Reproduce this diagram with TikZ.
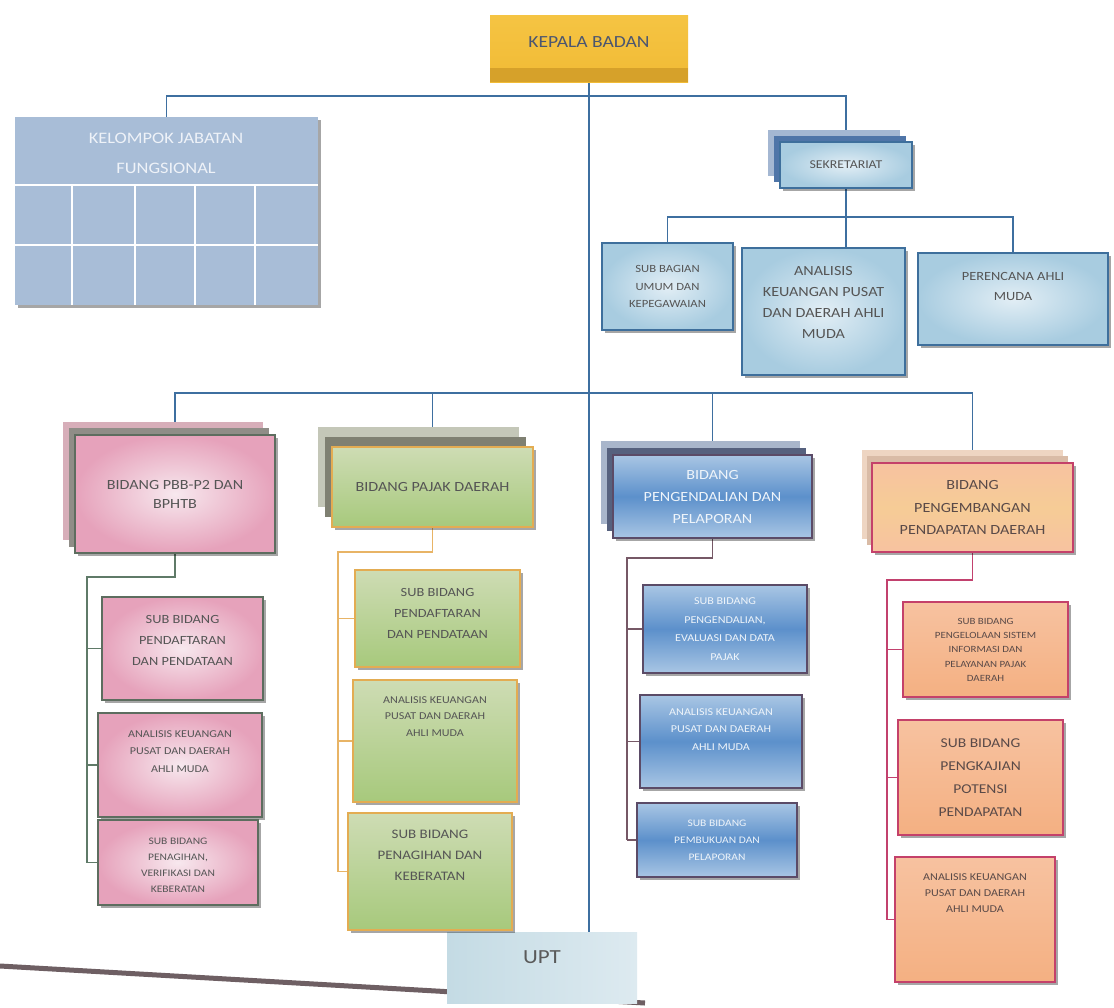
\documentclass[tikz,border=0pt]{standalone}
\usepackage{fontspec}
\setmainfont{Carlito}[FakeStretch=1.15]
\usetikzlibrary{shadows,calc}
\pgfdeclarelayer{background}
\pgfsetlayers{background,main}
\definecolor{lnblue}{HTML}{3E6FA0}
\definecolor{lnpink}{HTML}{5F7A68}
\definecolor{lngreen}{HTML}{E8B466}
\definecolor{lnbluecol}{HTML}{765866}
\definecolor{lnorange}{HTML}{C2416E}
\definecolor{kyellow}{HTML}{F5C443}
\definecolor{kyellow2}{HTML}{F1BB35}
\definecolor{kstrip}{HTML}{D6A12A}
\definecolor{ktext}{HTML}{4B5670}
\definecolor{kjfblue}{HTML}{A8BDD7}
\definecolor{kjftext}{HTML}{EEF2F8}
\definecolor{bdpink}{HTML}{5D6D5F}
\definecolor{fpink}{HTML}{E6A2BB}
\definecolor{fpinkin}{HTML}{F7E8EE}
\definecolor{bdgreen}{HTML}{E3AC52}
\definecolor{fgreentop}{HTML}{CEDCB4}
\definecolor{fgreenbot}{HTML}{A7C97C}
\definecolor{bdblue}{HTML}{5B4B67}
\definecolor{fbluelt}{HTML}{A9C6E4}
\definecolor{fbluedk}{HTML}{5C90CB}
\definecolor{bluetext}{HTML}{EEF4FA}
\definecolor{bdorange}{HTML}{C4416A}
\definecolor{forgtop}{HTML}{F7C2A0}
\definecolor{forgbot}{HTML}{F4B082}
\definecolor{forgmid}{HTML}{F6CC96}
\definecolor{bdsek}{HTML}{3E6F9C}
\definecolor{fsekin}{HTML}{E2EEF5}
\definecolor{fsekout}{HTML}{A8CCE0}
\definecolor{darktext}{HTML}{555555}
\definecolor{orgtext}{HTML}{5A4A48}
\definecolor{uptleft}{HTML}{C4DBE4}
\definecolor{uptright}{HTML}{DDEAF0}
\definecolor{upttext}{HTML}{5A5A5A}
\definecolor{bottomline}{HTML}{6E5F63}
\definecolor{shpinkback}{HTML}{D7AEB9}
\definecolor{shpinkmid}{HTML}{8F8D87}
\definecolor{shgreenback}{HTML}{C4C7B8}
\definecolor{shgreenmid}{HTML}{7F8072}
\definecolor{shblueback}{HTML}{A9B6CB}
\definecolor{shbluemid}{HTML}{56617E}
\definecolor{shorgback}{HTML}{EED5C2}
\definecolor{shorgmid}{HTML}{D9BBA6}
\definecolor{shsekback}{HTML}{A4B7D2}
\definecolor{shsekmid}{HTML}{4F75A8}
\newcommand\orgbox[6]{\node[#6, minimum width={(#4)-(#2)}, minimum height={(#5)-(#3)}] (#1) at ({((#2)+(#4))/2},{((#3)+(#5))/2}) {};}
\newcommand\fsz[2]{\fontsize{#1}{#2}\selectfont}
\tikzset{
  conn/.style={line width=1.5pt},
  cblue/.style={conn, draw=lnblue},
  cpink/.style={conn, draw=lnpink},
  cgreen/.style={conn, draw=lngreen},
  cbluecol/.style={conn, draw=lnbluecol},
  corange/.style={conn, draw=lnorange},
  boxbase/.style={rectangle, inner sep=0pt, outer sep=0pt,
    drop shadow={shadow xshift=2.5pt, shadow yshift=-2.5pt, fill=black, opacity=0.35}},
  kepalabox/.style={rectangle, inner sep=0pt, outer sep=0pt, top color=kyellow, bottom color=kyellow2},
  kjfbox/.style={boxbase, fill=kjfblue},
  pinkbox/.style={boxbase, draw=bdpink, line width=1.6pt, inner color=fpinkin, outer color=fpink},
  greenbox/.style={boxbase, draw=bdgreen, line width=1.6pt, top color=fgreentop, bottom color=fgreenbot},
  bluebox/.style={boxbase, draw=bdblue, line width=1.6pt, top color=fbluelt, bottom color=fbluelt, middle color=fbluedk},
  orangebox/.style={boxbase, draw=bdorange, line width=1.6pt, top color=forgtop, bottom color=forgbot},
  orangehead/.style={boxbase, draw=bdorange, line width=1.6pt, top color=forgtop, bottom color=forgtop, middle color=forgmid},
  sekbox/.style={boxbase, draw=bdsek, line width=1.8pt, inner color=fsekin, outer color=fsekout},
  uptbox/.style={rectangle, inner sep=0pt, outer sep=0pt, left color=uptleft, right color=uptright},
  lbl/.style={align=center, inner sep=0pt},
  lbltop/.style={lbl, anchor=north},
}
\begin{document}
\begin{tikzpicture}[x=1pt,y=-1pt]
\begin{pgfonlayer}{background}
\fill[white] (0,0) rectangle (1114,1007);
\end{pgfonlayer}
\useasboundingbox (0,0) rectangle (1114,1007);

% ---------- scan edge line at the bottom ----------
\draw[line width=5pt, draw=bottomline] (0,966) -- (645,1003);

% ---------- shadow stacks (behind head boxes) ----------
\fill[shsekback] (768,130) rectangle (900,176);
\fill[shsekmid] (774,136) rectangle (906,182);
\fill[shpinkback] (63,422) rectangle (263,540);
\fill[shpinkmid] (69,428) rectangle (269,547);
\fill[shgreenback] (318,427) rectangle (519,507);
\fill[shgreenmid] (325,437) rectangle (526,517);
\fill[shblueback] (601,441) rectangle (800,524);
\fill[shbluemid] (607,448) rectangle (806,531);
\fill[shorgback] (862,450) rectangle (1063,539);
\fill[shorgmid] (867,456) rectangle (1068,545);

% ---------- boxes ----------
\orgbox{kepala}{490}{15}{688}{82}{kepalabox}
\fill[kstrip] (490,68) rectangle (688,82);
\orgbox{kjf}{15}{117}{318}{305}{kjfbox}
\draw[white, line width=1.3pt] (15,185) -- (318,185) (15,245) -- (318,245)
  (72,185) -- (72,305) (135,185) -- (135,305) (195,185) -- (195,305) (255,185) -- (255,305);
\orgbox{upt}{447}{932}{637}{1003}{uptbox}

\orgbox{sek}{780}{142}{912}{188}{sekbox}
\orgbox{sa1}{602}{243}{733}{330}{sekbox}
\orgbox{sa2}{742}{248}{905}{375}{sekbox}
\orgbox{sa3}{918}{253}{1108}{345}{sekbox}

\orgbox{ph}{75}{435}{275}{553}{pinkbox}
\orgbox{gh}{332}{447}{533}{527}{greenbox}
\orgbox{bh}{613}{455}{812}{538}{bluebox}
\orgbox{oh}{872}{463}{1073}{552}{orangehead}

\orgbox{ps1}{102}{597}{263}{700}{pinkbox}
\orgbox{ps2}{98}{713}{262}{817}{pinkbox}
\orgbox{ps3}{98}{820}{258}{905}{pinkbox}
\orgbox{gs1}{355}{570}{520}{667}{greenbox}
\orgbox{gs2}{353}{680}{517}{802}{greenbox}
\orgbox{gs3}{348}{813}{512}{930}{greenbox}
\orgbox{bs1}{643}{585}{807}{673}{bluebox}
\orgbox{bs2}{640}{695}{802}{788}{bluebox}
\orgbox{bs3}{637}{803}{797}{877}{bluebox}
\orgbox{os1}{903}{602}{1068}{697}{orangebox}
\orgbox{os2}{898}{720}{1063}{835}{orangebox}
\orgbox{os3}{895}{857}{1055}{982}{orangebox}

% ---------- connectors (under the boxes) ----------
\coordinate (j1) at (589,96);
\coordinate (j2) at (846,217);
\coordinate (j3) at (589,393);
\coordinate (psp) at (87,577);
\coordinate (gsp) at (338,552);
\coordinate (bsp) at (627,558);
\coordinate (osp) at (887,580);
\begin{pgfonlayer}{background}
\draw[cblue] (kepala.south) -- (kepala.south |- upt.north);
\draw[cblue] (kjf.north) |- (j1) -| (sek.north);
\draw[cblue] (sek.south) -- (sek.south |- sa2.north);
\draw[cblue] (sa1.north) |- (j2) -| (sa3.north);
\draw[cblue] (ph.north) |- (j3) -| (oh.north);
\draw[cblue] (gh.north) -- (gh.north |- j3);
\draw[cblue] (bh.north) -- (bh.north |- j3);

\draw[cpink] (ph.south) |- (psp) -- (psp |- ps3.west);
\foreach \b in {ps1,ps2,ps3} \draw[cpink] (psp |- \b.west) -- (\b.west);
\draw[cgreen] (gh.south) |- (gsp) -- (gsp |- gs3.west);
\foreach \b in {gs1,gs2,gs3} \draw[cgreen] (gsp |- \b.west) -- (\b.west);
\draw[cbluecol] (bh.south) |- (bsp) -- (bsp |- bs3.west);
\foreach \b in {bs1,bs2,bs3} \draw[cbluecol] (bsp |- \b.west) -- (\b.west);
\draw[corange] (oh.south) |- (osp) -- (osp |- os3.west);
\foreach \b in {os1,os2,os3} \draw[corange] (osp |- \b.west) -- (\b.west);
\end{pgfonlayer}

% ---------- text ----------
\node[lbl, text=ktext, font=\fsz{17}{20}] at (589,42) {KEPALA BADAN};
\node[lbl, text=kjftext, font=\fsz{16}{30}] at (166,153) {KELOMPOK JABATAN\\FUNGSIONAL};
\node[lbl, text=darktext, font=\fsz{12}{14}] at (sek.center) {SEKRETARIAT};
\node[lbl, text=darktext, font=\fsz{11}{17.5}] at (sa1.center) {SUB BAGIAN\\UMUM DAN\\KEPEGAWAIAN};
\node[lbltop, text=darktext, font=\fsz{14}{21}] at ($(sa2.north)+(0,18)$) {ANALISIS\\KEUANGAN PUSAT\\DAN DAERAH AHLI\\MUDA};
\node[lbltop, text=darktext, font=\fsz{12.5}{20}] at ($(sa3.north)+(0,19)$) {PERENCANA AHLI\\MUDA};

\node[lbl, text=darktext, font=\fsz{14}{19}] at (ph.center) {BIDANG PBB-P2 DAN\\BPHTB};
\node[lbltop, text=darktext, font=\fsz{12.5}{21}] at ($(ps1.north)+(0,18)$) {SUB BIDANG\\PENDAFTARAN\\DAN PENDATAAN};
\node[lbltop, text=darktext, font=\fsz{10.5}{17.5}] at ($(ps2.north)+(0,17)$) {ANALISIS KEUANGAN\\PUSAT DAN DAERAH\\AHLI MUDA};
\node[lbltop, text=darktext, font=\fsz{10}{16}] at ($(ps3.north)+(0,18)$) {SUB BIDANG\\PENAGIHAN,\\VERIFIKASI DAN\\KEBERATAN};

\node[lbl, text=darktext, font=\fsz{14}{19}] at (gh.center) {BIDANG PAJAK DAERAH};
\node[lbltop, text=darktext, font=\fsz{12.5}{21}] at ($(gs1.north)+(0,18)$) {SUB BIDANG\\PENDAFTARAN\\DAN PENDATAAN};
\node[lbltop, text=darktext, font=\fsz{10.5}{16.5}] at ($(gs2.north)+(0,16)$) {ANALISIS KEUANGAN\\PUSAT DAN DAERAH\\AHLI MUDA};
\node[lbltop, text=darktext, font=\fsz{13}{21}] at ($(gs3.north)+(0,17)$) {SUB BIDANG\\PENAGIHAN DAN\\KEBERATAN};

\node[lbl, text=bluetext, font=\fsz{14}{22}] at (bh.center) {BIDANG\\PENGENDALIAN DAN\\PELAPORAN};
\node[lbl, text=bluetext, font=\fsz{10.5}{18.5}] at (bs1.center) {SUB BIDANG\\PENGENDALIAN,\\EVALUASI DAN DATA\\PAJAK};
\node[lbltop, text=bluetext, font=\fsz{10.5}{17.5}] at ($(bs2.north)+(0,13)$) {ANALISIS KEUANGAN\\PUSAT DAN DAERAH\\AHLI MUDA};
\node[lbl, text=bluetext, font=\fsz{10}{17}] at (bs3.center) {SUB BIDANG\\PEMBUKUAN DAN\\PELAPORAN};

\node[lbl, text=orgtext, font=\fsz{14}{22.5}] at (oh.center) {BIDANG\\PENGEMBANGAN\\PENDAPATAN DAERAH};
\node[lbltop, text=orgtext, font=\fsz{9.5}{14.3}] at ($(os1.north)+(0,16)$) {SUB BIDANG\\PENGELOLAAN SISTEM\\INFORMASI DAN\\PELAYANAN PAJAK\\DAERAH};
\node[lbl, text=orgtext, font=\fsz{13.5}{23}] at (os2.center) {SUB BIDANG\\PENGKAJIAN\\POTENSI\\PENDAPATAN};
\node[lbltop, text=orgtext, font=\fsz{10.5}{16}] at ($(os3.north)+(0,16)$) {ANALISIS KEUANGAN\\PUSAT DAN DAERAH\\AHLI MUDA};

\node[lbl, text=upttext, font=\fsz{20}{24}] at (542,957) {UPT};
\end{tikzpicture}
\end{document}
